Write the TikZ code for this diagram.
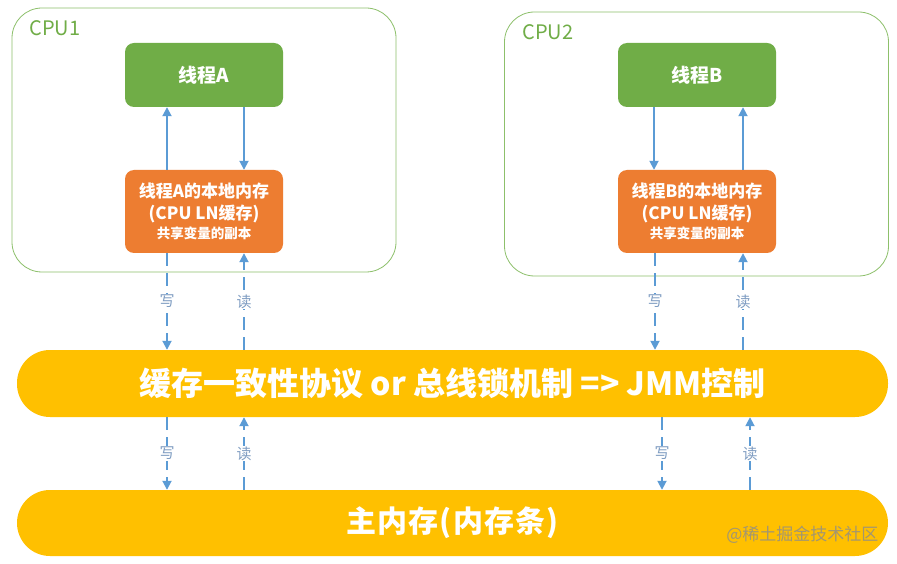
\documentclass[tikz,border=0pt]{standalone}
\usepackage{fontspec}
\setmainfont{Noto Sans CJK SC}
\usepackage{tikz}
\usetikzlibrary{arrows.meta}
\definecolor{cpugreen}{HTML}{8DC06B}
\definecolor{threadgreen}{HTML}{70AD47}
\definecolor{memorange}{HTML}{ED7D31}
\definecolor{busyellow}{HTML}{FFC000}
\definecolor{arrowblue}{HTML}{5B9BD5}
\definecolor{labelblue}{HTML}{7F9DC2}

\begin{document}
\begin{tikzpicture}[x=1pt, y=1pt]
		\tikzstyle{cpu}=[
		draw=cpugreen,
		line width=0.8pt,
		rectangle,
		rounded corners=30pt,
		minimum width=384pt,
		minimum height=264pt]
		\tikzstyle{thread}=[
		fill=threadgreen,
		rectangle,
		rounded corners=9pt,
		text=white,
		font=\fontsize{19}{21}\selectfont\bfseries,
		minimum width=158pt,
		minimum height=64pt]
		\tikzstyle{local}=[
		fill=memorange,
		rectangle,
		rounded corners=9pt,
		text=white,
		align=center,
		font=\fontsize{17}{22}\selectfont\bfseries,
		minimum width=158pt,
		minimum height=83pt]
		\tikzstyle{bus}=[
		fill=busyellow,
		rectangle,
		rounded corners=33pt,
		text=white,
		minimum width=871pt,
		minimum height=67pt]
		\tikzstyle{link}=[
		draw=arrowblue,
		line width=1.8pt,
		-{Triangle[width=9pt,length=9pt]}]
		\tikzstyle{rw}=[
		link,
		dash pattern=on 13pt off 7pt]
		\tikzstyle{lbl}=[
		fill=white,
		text=labelblue,
		inner sep=1pt,
		font=\fontsize{15}{17}\selectfont]
		%
		\useasboundingbox [fill=white] (0,0) rectangle (897,563);
		%
		\node[cpu] (CPU1) at (204,423) {};
		\node[cpu] (CPU2) at (696.5,419) {};
		\node[anchor=west, text=threadgreen, font=\fontsize{20}{22}\selectfont] (CPU1L) at (26,535) {CPU1};
		\node[anchor=west, text=threadgreen, font=\fontsize{20}{22}\selectfont] (CPU2L) at (519,531) {CPU2};
		%
		\node[thread] (TA) at (204,488) {线程A};
		\node[thread, right of=TA, node distance=493pt] (TB) {线程B};
		\node[local, below of=TA, node distance=136.5pt] (LA) {线程A的本地内存\\(CPU LN缓存)\\[-3pt]{\fontsize{13.5}{15}\selectfont 共享变量的副本}};
		\node[local, below of=TB, node distance=136.5pt] (LB) {线程B的本地内存\\(CPU LN缓存)\\[-3pt]{\fontsize{13.5}{15}\selectfont 共享变量的副本}};
		%
		\node[bus, font=\fontsize{32}{34}\selectfont\bfseries] (BUS) at (452.5,179.5) {缓存一致性协议 or 总线锁机制 => JMM控制};
		\node[bus, minimum height=66pt, font=\fontsize{30}{32}\selectfont\bfseries\addfontfeature{LetterSpace=4}] (MEM) at (452.5,40) {主内存(内存条)};
		%
		\draw[link] ([xshift=-37pt]LA.north) -- ([xshift=-37pt]TA.south);
		\draw[link] ([xshift=40pt]TA.south) -- ([xshift=40pt]LA.north);
		\draw[link] ([xshift=-43pt]TB.south) -- ([xshift=-43pt]LB.north);
		\draw[link] ([xshift=46pt]LB.north) -- ([xshift=46pt]TB.south);
		%
		\draw[rw] ([xshift=-37pt]LA.south) -- node[lbl] {写} ([xshift=-37pt]LA.south |- BUS.north);
		\draw[rw] ([xshift=40pt]LA.south |- BUS.north) -- node[lbl] {读} ([xshift=40pt]LA.south);
		\draw[rw] ([xshift=-42pt]LB.south) -- node[lbl] {写} ([xshift=-42pt]LB.south |- BUS.north);
		\draw[rw] ([xshift=46pt]LB.south |- BUS.north) -- node[lbl] {读} ([xshift=46pt]LB.south);
		%
		\draw[rw] ([xshift=-37pt]LA.south |- BUS.south) -- node[lbl] {写} ([xshift=-37pt]LA.south |- MEM.north);
		\draw[rw] ([xshift=40pt]LA.south |- MEM.north) -- node[lbl] {读} ([xshift=40pt]LA.south |- BUS.south);
		\draw[rw] ([xshift=-35pt]LB.south |- BUS.south) -- node[lbl] {写} ([xshift=-35pt]LB.south |- MEM.north);
		\draw[rw] ([xshift=53pt]LB.south |- MEM.north) -- node[lbl] {读} ([xshift=53pt]LB.south |- BUS.south);
		%
		\node[anchor=east, text=black!45, opacity=0.8, font=\fontsize{17}{19}\selectfont] (WM) at (882,28) {@稀土掘金技术社区};
	\end{tikzpicture}
\end{document}
